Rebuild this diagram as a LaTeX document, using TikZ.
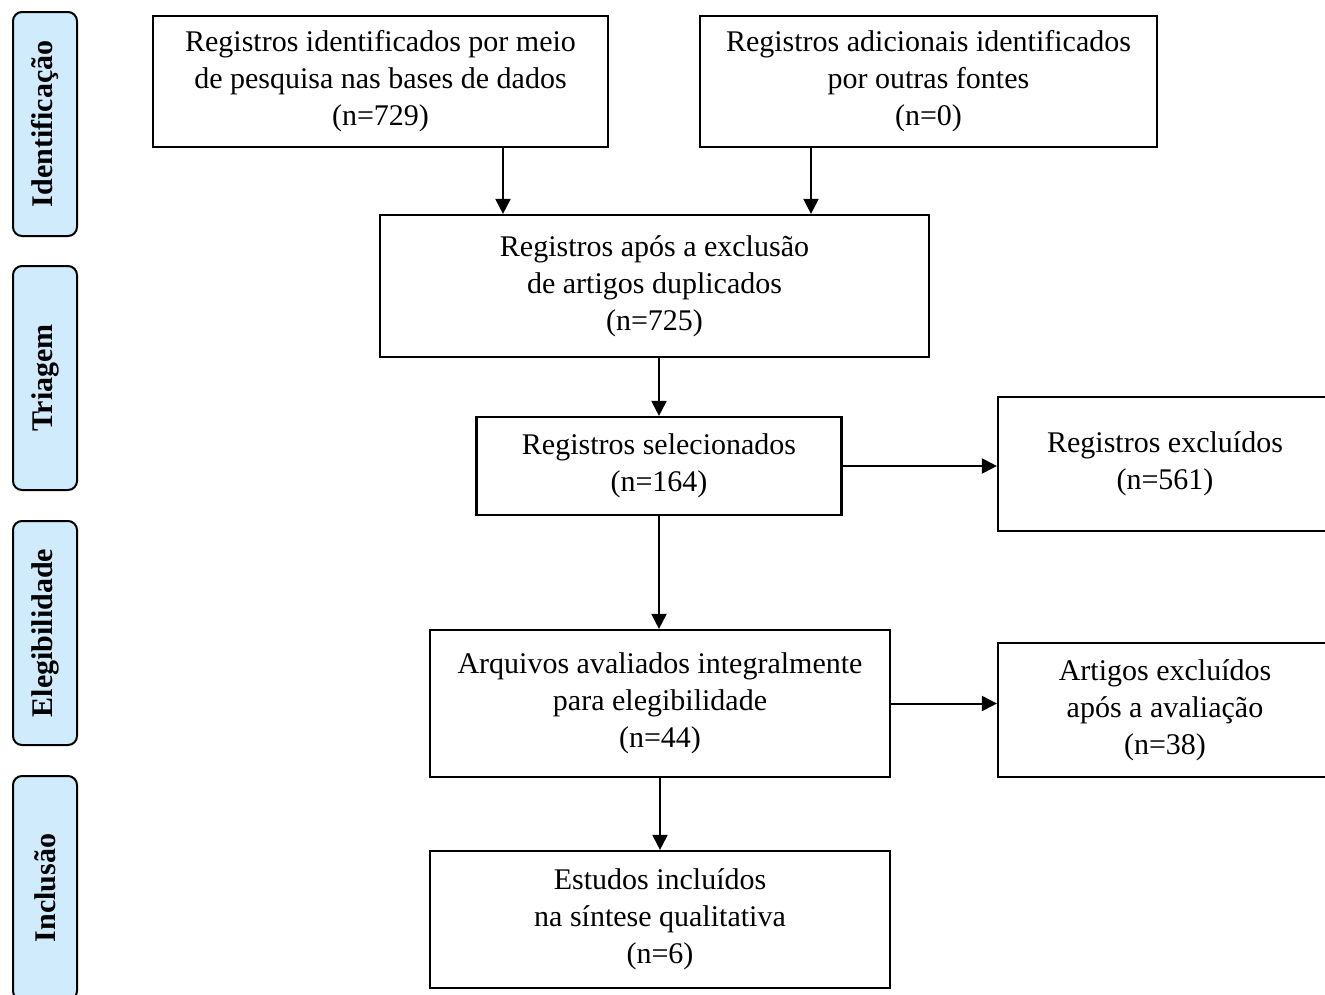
\documentclass[tikz,border=0pt]{standalone}
\usepackage{fontspec}
\setmainfont{Liberation Serif}
\usetikzlibrary{arrows.meta,calc}
\definecolor{phase}{HTML}{D0EBFB}
\tikzset{
  box/.style={draw=black,line width=2.2pt,align=center,inner sep=0pt,
    font=\fontsize{30}{37}\selectfont},
  phasebox/.style={draw=black,line width=2pt,fill=phase,rounded corners=9pt,
    minimum width=64pt,minimum height=224pt,inner sep=0pt},
  phasetext/.style={rotate=90,font=\fontsize{30}{34}\selectfont\bfseries},
  arr/.style={line width=2pt,-{Triangle[length=15pt,width=15pt]}}
}
\begin{document}
\begin{tikzpicture}[x=1pt,y=-1pt]
\useasboundingbox (0,0) rectangle (1325,994);
\clip (0,0) rectangle (1325,994);
% phase labels
\node[phasebox] (p1) at (45,124) {};
\node[phasetext] (t1) at (p1) {Identificação};
\node[phasebox] (p2) at (45,378) {};
\node[phasetext] (t2) at (p2) {Triagem};
\node[phasebox] (p3) at (45,633) {};
\node[phasetext] (t3) at (p3) {Elegibilidade};
\node[phasebox] (p4) at (45,888) {};
\node[phasetext] (t4) at (p4) {Inclusão};
% boxes
\node[box,minimum width=455pt,minimum height=131pt] (b1) at (380.5,81.5)
  {Registros identificados por meio\\de pesquisa nas bases de dados\\(n=729)};
\node[box,minimum width=457pt,minimum height=131pt] (b2) at (928.5,81.5)
  {Registros adicionais identificados\\por outras fontes\\(n=0)};
\node[box,minimum width=549pt,minimum height=142pt] (b3) at (654.5,286)
  {Registros após a exclusão\\de artigos duplicados\\(n=725)};
\node[box,minimum width=365pt,minimum height=98pt] (b4) at (659,466)
  {Registros selecionados\\(n=164)};
\node[box,minimum width=334pt,minimum height=134pt] (b5) at (1165,464)
  {Registros excluídos\\(n=561)};
\node[box,minimum width=460pt,minimum height=147pt] (b6) at (660,703.5)
  {Arquivos avaliados integralmente\\para elegibilidade\\(n=44)};
\node[box,minimum width=334pt,minimum height=134pt] (b7) at (1165,710)
  {Artigos excluídos\\após a avaliação\\(n=38)};
\node[box,minimum width=460pt,minimum height=137pt] (b8) at (660,919.5)
  {Estudos incluídos\\na síntese qualitativa\\(n=6)};
% connectors
\coordinate (a1) at (503,0);
\coordinate (a2) at (811,0);
\draw[arr] (b1.south -| a1) -- (b3.north -| a1);
\draw[arr] (b2.south -| a2) -- (b3.north -| a2);
\draw[arr] (b3.south -| b4) -- (b4.north);
\draw[arr] (b4.south) -- (b6.north -| b4.south);
\draw[arr] (b6.south) -- (b8.north);
\draw[arr] (b4.east) -- (b5.west |- b4.east);
\draw[arr] (b6.east) -- (b7.west |- b6.east);
\end{tikzpicture}
\end{document}
